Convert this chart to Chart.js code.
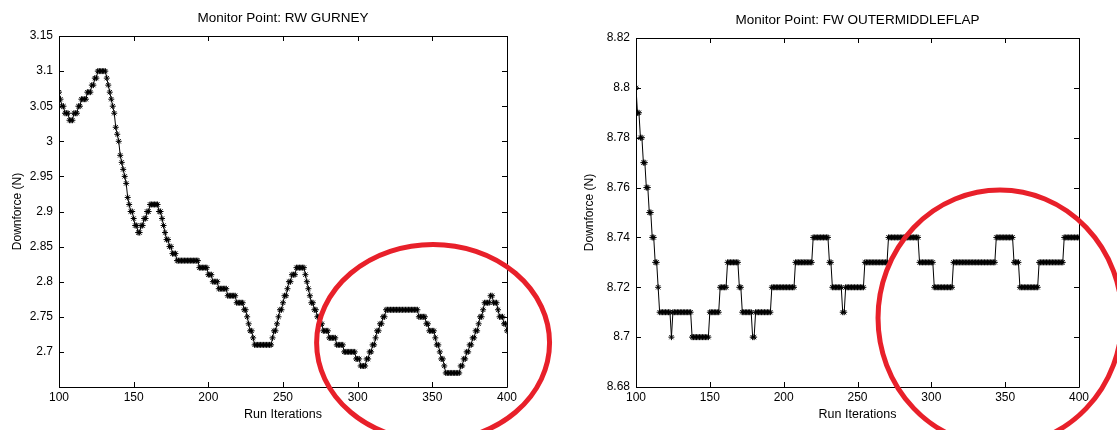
<!DOCTYPE html>
<html>
<head>
<meta charset="utf-8">
<script src="https://cdn.jsdelivr.net/npm/chart.js@4"></script>
<style>
  html, body { margin: 0; padding: 0; background: #fff; }
  body { width: 1117px; height: 430px; position: relative; overflow: hidden; }
  .panel { position: absolute; top: 0; height: 430px; }
  #leftPanel { left: 0; width: 560px; }
  #rightPanel { left: 560px; width: 557px; }
</style>
</head>
<body>
<div class="panel" id="leftPanel"><canvas id="rwChart"></canvas></div>
<div class="panel" id="rightPanel"><canvas id="fwChart"></canvas></div>
<script>
// iteration of the first sample in each series (one sample per iteration)
const firstIteration = 100;

// RW GURNEY downforce, iterations 100..400
const rwGurney = [
  3.07, 3.06, 3.05, 3.05, 3.04, 3.04, 3.04, 3.03, 3.03, 3.03,
  3.04, 3.04, 3.04, 3.05, 3.05, 3.06, 3.06, 3.06, 3.06, 3.07,
  3.07, 3.07, 3.08, 3.08, 3.09, 3.09, 3.10, 3.10, 3.10, 3.10,
  3.10, 3.10, 3.09, 3.08, 3.07, 3.06, 3.05, 3.04, 3.02, 3.01,
  3.00, 2.98, 2.97, 2.96, 2.95, 2.94, 2.92, 2.91, 2.90, 2.90,
  2.89, 2.88, 2.88, 2.87, 2.87, 2.88, 2.88, 2.89, 2.89, 2.90,
  2.90, 2.91, 2.91, 2.91, 2.91, 2.91, 2.91, 2.90, 2.90, 2.89,
  2.88, 2.87, 2.86, 2.86, 2.85, 2.85, 2.84, 2.84, 2.84, 2.83,
  2.83, 2.83, 2.83, 2.83, 2.83, 2.83, 2.83, 2.83, 2.83, 2.83,
  2.83, 2.83, 2.83, 2.83, 2.82, 2.82, 2.82, 2.82, 2.82, 2.82,
  2.81, 2.81, 2.81, 2.80, 2.80, 2.80, 2.80, 2.79, 2.79, 2.79,
  2.79, 2.79, 2.79, 2.78, 2.78, 2.78, 2.78, 2.78, 2.78, 2.77,
  2.77, 2.77, 2.77, 2.77, 2.76, 2.76, 2.75, 2.74, 2.73, 2.73,
  2.72, 2.71, 2.71, 2.71, 2.71, 2.71, 2.71, 2.71, 2.71, 2.71,
  2.71, 2.71, 2.71, 2.72, 2.73, 2.73, 2.74, 2.75, 2.76, 2.76,
  2.77, 2.78, 2.78, 2.79, 2.80, 2.80, 2.81, 2.81, 2.81, 2.82,
  2.82, 2.82, 2.82, 2.82, 2.82, 2.81, 2.80, 2.79, 2.78, 2.77,
  2.77, 2.76, 2.76, 2.75, 2.75, 2.74, 2.74, 2.73, 2.73, 2.73,
  2.73, 2.72, 2.72, 2.72, 2.72, 2.72, 2.71, 2.71, 2.71, 2.71,
  2.71, 2.70, 2.70, 2.70, 2.70, 2.70, 2.70, 2.70, 2.70, 2.69,
  2.69, 2.69, 2.68, 2.68, 2.68, 2.68, 2.69, 2.69, 2.70, 2.70,
  2.71, 2.71, 2.72, 2.73, 2.73, 2.74, 2.74, 2.75, 2.75, 2.76,
  2.76, 2.76, 2.76, 2.76, 2.76, 2.76, 2.76, 2.76, 2.76, 2.76,
  2.76, 2.76, 2.76, 2.76, 2.76, 2.76, 2.76, 2.76, 2.76, 2.76,
  2.76, 2.75, 2.75, 2.75, 2.75, 2.75, 2.74, 2.74, 2.73, 2.73,
  2.73, 2.73, 2.72, 2.71, 2.71, 2.70, 2.69, 2.69, 2.68, 2.67,
  2.67, 2.67, 2.67, 2.67, 2.67, 2.67, 2.67, 2.67, 2.67, 2.68,
  2.68, 2.69, 2.69, 2.70, 2.70, 2.71, 2.71, 2.72, 2.72, 2.73,
  2.73, 2.74, 2.75, 2.75, 2.76, 2.77, 2.77, 2.77, 2.77, 2.78,
  2.78, 2.77, 2.77, 2.77, 2.76, 2.75, 2.75, 2.75, 2.74, 2.74,
  2.73
];

// FW OUTERMIDDLEFLAP downforce, iterations 100..400
const fwOuterMiddleFlap = [
  8.80, 8.79, 8.79, 8.78, 8.78, 8.77, 8.77, 8.76, 8.76, 8.75,
  8.75, 8.74, 8.74, 8.73, 8.73, 8.72, 8.71, 8.71, 8.71, 8.71,
  8.71, 8.71, 8.71, 8.71, 8.70, 8.71, 8.71, 8.71, 8.71, 8.71,
  8.71, 8.71, 8.71, 8.71, 8.71, 8.71, 8.71, 8.71, 8.70, 8.70,
  8.70, 8.70, 8.70, 8.70, 8.70, 8.70, 8.70, 8.70, 8.70, 8.70,
  8.71, 8.71, 8.71, 8.71, 8.71, 8.71, 8.71, 8.72, 8.72, 8.72,
  8.72, 8.72, 8.73, 8.73, 8.73, 8.73, 8.73, 8.73, 8.73, 8.73,
  8.72, 8.72, 8.71, 8.71, 8.71, 8.71, 8.71, 8.71, 8.71, 8.70,
  8.70, 8.71, 8.71, 8.71, 8.71, 8.71, 8.71, 8.71, 8.71, 8.71,
  8.71, 8.71, 8.72, 8.72, 8.72, 8.72, 8.72, 8.72, 8.72, 8.72,
  8.72, 8.72, 8.72, 8.72, 8.72, 8.72, 8.72, 8.72, 8.73, 8.73,
  8.73, 8.73, 8.73, 8.73, 8.73, 8.73, 8.73, 8.73, 8.73, 8.73,
  8.74, 8.74, 8.74, 8.74, 8.74, 8.74, 8.74, 8.74, 8.74, 8.74,
  8.74, 8.73, 8.73, 8.72, 8.72, 8.72, 8.72, 8.72, 8.72, 8.72,
  8.71, 8.71, 8.72, 8.72, 8.72, 8.72, 8.72, 8.72, 8.72, 8.72,
  8.72, 8.72, 8.72, 8.72, 8.72, 8.73, 8.73, 8.73, 8.73, 8.73,
  8.73, 8.73, 8.73, 8.73, 8.73, 8.73, 8.73, 8.73, 8.73, 8.73,
  8.73, 8.74, 8.74, 8.74, 8.74, 8.74, 8.74, 8.74, 8.74, 8.74,
  8.74, 8.74, 8.74, 8.74, 8.74, 8.74, 8.74, 8.74, 8.74, 8.74,
  8.74, 8.74, 8.73, 8.73, 8.73, 8.73, 8.73, 8.73, 8.73, 8.73,
  8.73, 8.73, 8.72, 8.72, 8.72, 8.72, 8.72, 8.72, 8.72, 8.72,
  8.72, 8.72, 8.72, 8.72, 8.72, 8.73, 8.73, 8.73, 8.73, 8.73,
  8.73, 8.73, 8.73, 8.73, 8.73, 8.73, 8.73, 8.73, 8.73, 8.73,
  8.73, 8.73, 8.73, 8.73, 8.73, 8.73, 8.73, 8.73, 8.73, 8.73,
  8.73, 8.73, 8.73, 8.73, 8.74, 8.74, 8.74, 8.74, 8.74, 8.74,
  8.74, 8.74, 8.74, 8.74, 8.74, 8.74, 8.73, 8.73, 8.73, 8.73,
  8.72, 8.72, 8.72, 8.72, 8.72, 8.72, 8.72, 8.72, 8.72, 8.72,
  8.72, 8.72, 8.72, 8.73, 8.73, 8.73, 8.73, 8.73, 8.73, 8.73,
  8.73, 8.73, 8.73, 8.73, 8.73, 8.73, 8.73, 8.73, 8.73, 8.73,
  8.74, 8.74, 8.74, 8.74, 8.74, 8.74, 8.74, 8.74, 8.74, 8.74,
  8.74
];

const xTitle = 'Run Iterations';
const yTitle = 'Downforce (N)';

Chart.defaults.font.family = "'Liberation Sans', Arial, sans-serif";
Chart.defaults.font.size = 12;
Chart.defaults.color = '#000';
Chart.defaults.animation = false;

const toPoints = values => values.map((v, i) => ({ x: firstIteration + i, y: v }));

// MATLAB-ish box: frame all four sides and put the ticks inside
const boxPlugin = {
  id: 'matlabBox',
  afterDatasetsDraw(chart) {
    const { ctx, chartArea: a, scales: { x, y } } = chart;
    const len = 5;
    ctx.save();
    ctx.strokeStyle = '#000';
    ctx.lineWidth = 1;
    ctx.beginPath();
    ctx.rect(Math.round(a.left) + 0.5, Math.round(a.top) + 0.5,
      Math.round(a.right - a.left), Math.round(a.bottom - a.top));
    x.ticks.forEach(t => {
      const px = Math.round(x.getPixelForValue(t.value)) + 0.5;
      ctx.moveTo(px, a.bottom); ctx.lineTo(px, a.bottom - len);
      ctx.moveTo(px, a.top); ctx.lineTo(px, a.top + len);
    });
    y.ticks.forEach(t => {
      const py = Math.round(y.getPixelForValue(t.value)) + 0.5;
      ctx.moveTo(a.left, py); ctx.lineTo(a.left + len, py);
      ctx.moveTo(a.right, py); ctx.lineTo(a.right - len, py);
    });
    ctx.stroke();
    ctx.restore();
  }
};

// red hand-drawn ring, placed in data units
const ringPlugin = {
  id: 'ring',
  afterDraw(chart, args, opts) {
    const { ctx, scales: { x, y } } = chart;
    const cx = x.getPixelForValue(opts.x);
    const cy = y.getPixelForValue(opts.y);
    const rx = Math.abs(x.getPixelForValue(opts.x + opts.dx) - cx);
    const ry = Math.abs(y.getPixelForValue(opts.y + opts.dy) - cy);
    ctx.save();
    ctx.strokeStyle = '#e8202a';
    ctx.lineWidth = 5;
    ctx.beginPath();
    ctx.ellipse(cx, cy, rx, ry, 0, 0, Math.PI * 2);
    ctx.stroke();
    ctx.restore();
  }
};

function makeChart(id, title, values, yr, geom, ring) {
  return new Chart(document.getElementById(id), {
    type: 'line',
    data: {
      datasets: [{
        data: toPoints(values),
        borderColor: '#000',
        borderWidth: 1,
        tension: 0,
        pointStyle: 'star',
        pointRadius: 3,
        pointBorderColor: '#000',
        pointBorderWidth: 1,
        pointBackgroundColor: '#000'
      }]
    },
    options: {
      responsive: true,
      maintainAspectRatio: false,
      layout: { padding: { left: 0, right: geom.right, top: 0, bottom: 0 } },
      scales: {
        x: {
          type: 'linear',
          min: 100,
          max: 400,
          afterFit: s => { s.height = 43; },
          ticks: { stepSize: 50, padding: 3, maxRotation: 0, autoSkip: false },
          grid: { display: false, drawTicks: false },
          border: { display: false },
          title: { display: true, text: xTitle, font: { size: 12.5 }, padding: { top: 0, bottom: 7.5 } }
        },
        y: {
          type: 'linear',
          min: yr.min,
          max: yr.max,
          afterFit: s => { s.width = geom.left; },
          ticks: {
            stepSize: yr.step,
            padding: 6,
            autoSkip: false,
            callback: v => (yr.hideMin && Math.abs(v - yr.min) < 1e-6) ? '' : String(+v.toFixed(2))
          },
          grid: { display: false, drawTicks: false },
          border: { display: false },
          title: { display: true, text: yTitle, padding: { top: geom.yTitle, bottom: 0 } }
        }
      },
      plugins: {
        legend: { display: false },
        tooltip: { enabled: false },
        title: {
          display: true,
          text: title,
          fullSize: false,
          color: '#000',
          font: { size: 13.5, weight: 'normal' },
          padding: { top: geom.top - 26.1, bottom: 9.9 }
        },
        ring: ring
      }
    },
    plugins: [boxPlugin, ringPlugin]
  });
}

makeChart('rwChart', 'Monitor Point: RW GURNEY', rwGurney,
  { min: 2.65, max: 3.15, step: 0.05, hideMin: true },
  { left: 59, right: 53, top: 36, yTitle: 10 },
  { x: 350.5, y: 2.713, dx: 78, dy: 0.14 });

makeChart('fwChart', 'Monitor Point: FW OUTERMIDDLEFLAP', fwOuterMiddleFlap,
  { min: 8.68, max: 8.82, step: 0.02, hideMin: false },
  { left: 76, right: 38, top: 38, yTitle: 22.8 },
  { x: 346.5, y: 8.7077, dx: 82.6, dy: 0.0513 });
</script>
</body>
</html>
